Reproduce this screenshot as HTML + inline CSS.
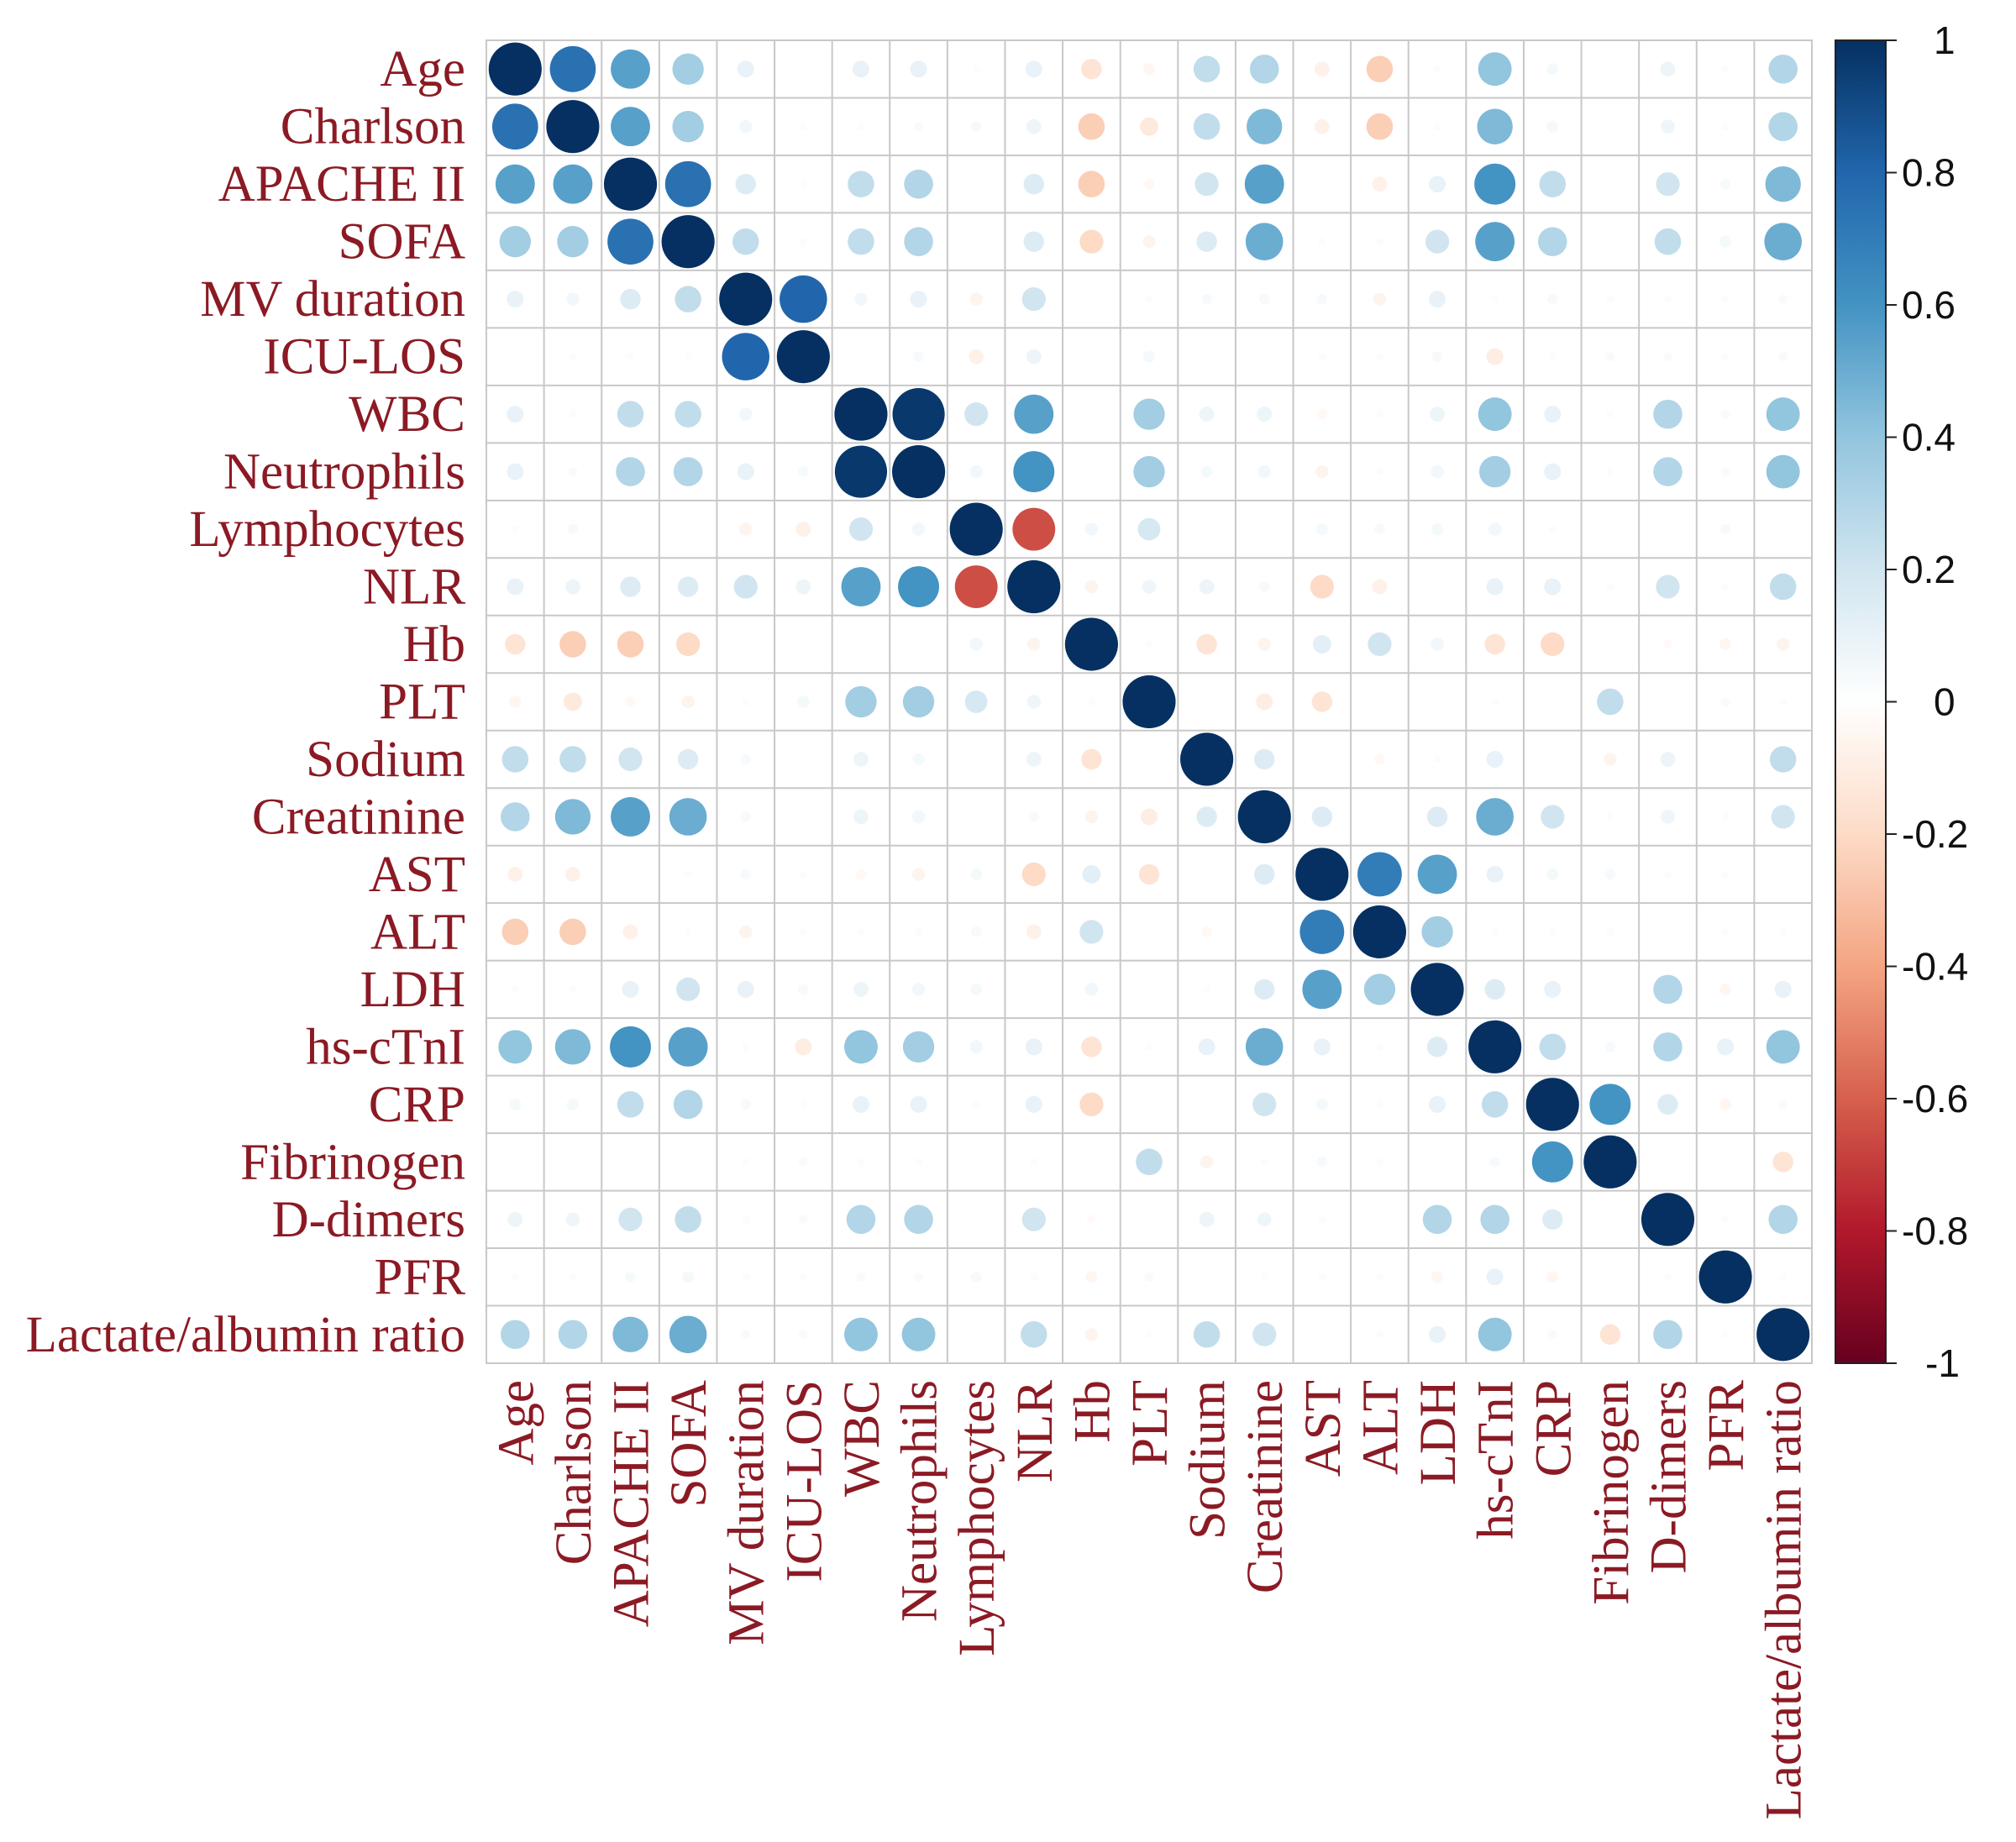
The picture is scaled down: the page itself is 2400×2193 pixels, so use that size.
<!DOCTYPE html>
<html><head><meta charset="utf-8">
<style>
html,body{margin:0;padding:0;background:#fff;}
svg{display:block;}
</style></head>
<body>
<svg id="chart" width="2400" height="2193" viewBox="0 0 2400 2193" xmlns="http://www.w3.org/2000/svg"></svg>
<script>
const labels = ["Age","Charlson","APACHE II","SOFA","MV duration","ICU-LOS","WBC","Neutrophils","Lymphocytes","NLR","Hb","PLT","Sodium","Creatinine","AST","ALT","LDH","hs-cTnI","CRP","Fibrinogen","D-dimers","PFR","Lactate/albumin ratio"];
// upper-triangle correlations, row i lists values for columns i+1..n-1
const upper = [
[0.75,0.55,0.35,0.1,0,0.1,0.1,0.02,0.1,-0.15,-0.05,0.25,0.3,-0.08,-0.25,0.02,0.4,0.05,0,0.08,0.02,0.3],
[0.55,0.35,0.06,0.02,0.02,0.03,0.04,0.08,-0.25,-0.12,0.25,0.45,-0.08,-0.25,0.02,0.45,0.05,0,0.07,0.02,0.3],
[0.75,0.15,0.02,0.25,0.3,0,0.15,-0.25,-0.04,0.2,0.55,0,-0.08,0.1,0.6,0.25,0,0.2,0.04,0.45],
[0.25,0.02,0.25,0.3,0,0.15,-0.2,-0.06,0.15,0.5,0.02,0.02,0.2,0.55,0.3,0,0.25,0.05,0.5],
[0.8,0.06,0.1,-0.06,0.2,0.01,0.02,0.04,0.04,0.04,-0.06,0.1,0.02,0.04,0.02,0.02,0.02,0.03],
[0.01,0.04,-0.08,0.08,0.01,0.05,0,0,0.02,0.02,0.04,-0.1,0.02,0.03,0.03,0.02,0.03],
[0.97,0.2,0.55,0,0.35,0.08,0.08,-0.04,0.02,0.08,0.4,0.1,0.02,0.3,0.03,0.4],
[0.06,0.6,0,0.35,0.05,0.06,-0.06,0.02,0.06,0.35,0.1,0.02,0.3,0.03,0.4],
[-0.65,0.06,0.18,0.01,0,0.05,0.04,0.05,0.06,0.02,0.01,0.01,0.04,0.01],
[-0.06,0.07,0.08,0.04,-0.2,-0.08,0.01,0.1,0.1,0.02,0.2,0.02,0.25],
[0.02,-0.15,-0.06,0.12,0.2,0.06,-0.15,-0.2,0,-0.03,-0.05,-0.06],
[0.01,-0.1,-0.15,0,0,0.02,0,0.25,0.01,0.03,0.02],
[0.15,0,-0.04,0.02,0.1,0,-0.06,0.08,0.01,0.25],
[0.15,0.01,0.15,0.5,0.2,0.02,0.07,0.02,0.2],
[0.7,0.55,0.1,0.05,0.04,0.02,0.02,0.01],
[0.35,0.02,0.02,0.02,0.01,0.02,0.02],
[0.15,0.1,0.01,0.3,-0.05,0.1],
[0.25,0.04,0.3,0.1,0.4],
[0.6,0.15,-0.05,0.03],
[0.01,0.01,-0.15],
[0.02,0.3],
[0.02]
];
const ticks = [1,0.8,0.6,0.4,0.2,0,-0.2,-0.4,-0.6,-0.8,-1];
const tickText = ["1","0.8","0.6","0.4","0.2","0","-0.2","-0.4","-0.6","-0.8","-1"];

const NS="http://www.w3.org/2000/svg";
const svg=document.getElementById('chart');
const n=labels.length;
const X0=579, Y0=48, X1=2157, Y1=1623;
const cw=(X1-X0)/n, ch=(Y1-Y0)/n;
const colX=i=>X0+cw*(i+0.5);
const rowY=i=>Y0+ch*(i+0.5);
const pal=["#67001F","#B2182B","#D6604D","#F4A582","#FDDBC7","#FFFFFF","#D1E5F0","#92C5DE","#4393C3","#2166AC","#053061"];
function hex(c){return [1,3,5].map(k=>parseInt(c.substr(k,2),16));}
function color(v){
  const t=(v+1)/2*(pal.length-1);
  const i=Math.min(pal.length-2,Math.floor(t)), f=t-i;
  const a=hex(pal[i]), b=hex(pal[i+1]);
  return "rgb("+a.map((x,k)=>Math.round(x+(b[k]-x)*f)).join(",")+")";
}
function mk(tag,attrs){const e=document.createElementNS(NS,tag);for(const k in attrs)e.setAttribute(k,attrs[k]);svg.appendChild(e);return e;}
function corr(i,j){if(i===j)return 1;if(i<j)return upper[i][j-i-1];return upper[j][i-j-1];}

const bg=mk('rect',{x:X0,y:Y0,width:X1-X0,height:Y1-Y0,fill:'#fff',stroke:'#c8c8c8','stroke-width':2});


for(let k=1;k<n;k++){
  const v=mk('line',{x1:X0+cw*k,y1:Y0,x2:X0+cw*k,y2:Y1,stroke:'#c8c8c8','stroke-width':2});
  
  
  const h=mk('line',{x1:X0,y1:Y0+ch*k,x2:X1,y2:Y0+ch*k,stroke:'#c8c8c8','stroke-width':2});
  
  
}
for(let i=0;i<n;i++)for(let j=0;j<n;j++){
  const r=corr(i,j);
  const c=mk('circle',{cx:colX(j),cy:rowY(i),r:cw*0.46*Math.sqrt(Math.abs(r)),fill:color(r)});
  
  
}
labels.forEach((l,i)=>{
  const t=mk('text',{x:554,y:rowY(i)+20,'text-anchor':'end','font-family':'"Liberation Serif",serif','font-size':61,fill:'#8b1a24'});
  t.textContent=l;
  
  
});
labels.forEach((l,i)=>{
  const x=colX(i)+21, y=1643;
  const t=mk('text',{x:x,y:y,'text-anchor':'end','font-family':'"Liberation Serif",serif','font-size':61,fill:'#8b1a24',transform:'rotate(-90 '+x+' '+y+')'});
  t.textContent=l;
  
  
});
const defs=document.createElementNS(NS,'defs');svg.appendChild(defs);
const lg=document.createElementNS(NS,'linearGradient');
lg.setAttribute('id','cb');lg.setAttribute('x1','0');lg.setAttribute('y1','0');lg.setAttribute('x2','0');lg.setAttribute('y2','1');
defs.appendChild(lg);
for(let k=0;k<pal.length;k++){const s=document.createElementNS(NS,'stop');s.setAttribute('offset',k/(pal.length-1));s.setAttribute('stop-color',pal[pal.length-1-k]);lg.appendChild(s);}
const CX0=2185, CX1=2245;
const bar=mk('rect',{x:CX0,y:Y0,width:CX1-CX0,height:Y1-Y0,fill:'url(#cb)',stroke:'#222','stroke-width':2});


const cy=v=>Y0+(1-v)/2*(Y1-Y0);
ticks.forEach((v,k)=>{
  const ln=mk('line',{x1:CX1,y1:cy(v),x2:2258,y2:cy(v),stroke:'#222','stroke-width':2});
  
  
  const s=tickText[k];
  const lx = s.length>2 ? 2264 : (s==="-1" ? 2292 : 2302);
  const t=mk('text',{x:lx,y:cy(v)+16,'font-family':'"Liberation Sans",sans-serif','font-size':46,fill:'#111'});
  t.textContent=s;
  
  
});
</script>
</body></html>
